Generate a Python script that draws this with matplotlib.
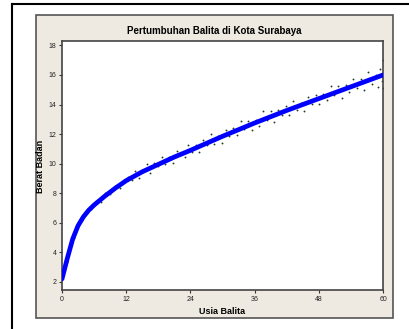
import matplotlib

matplotlib.use("Agg")
import matplotlib.pyplot as plt  # noqa: E402
from matplotlib.lines import Line2D  # noqa: E402
from matplotlib.patches import Rectangle  # noqa: E402

TITLE = "Pertumbuhan Balita di Kota Surabaya"
X_LABEL = "Usia Balita"
Y_LABEL = "Berat Badan"
X_TICKS = [0, 12, 24, 36, 48, 60]
Y_TICKS = [2, 4, 6, 8, 10, 12, 14, 16, 18]

# fitted growth curve (age in months, weight in kg)
curve_age = [0, 1, 2, 3, 4, 5, 6, 8, 10, 12, 15, 18, 21, 24, 30, 36, 42, 48, 54, 60]
curve_weight = [2.2, 3.6, 4.9, 5.8, 6.4, 6.85, 7.2, 7.8, 8.35, 8.85, 9.45, 9.95,
                10.45, 10.9, 11.85, 12.75, 13.6, 14.4, 15.2, 16.0]

# observed children
obs_age = [0.4, 0.9, 1.5, 2.2, 3.0, 3.8, 4.6, 5.4, 6.3, 7.2, 8.1, 9.0, 9.9, 10.8, 11.6,
           12.4, 13.0, 13.7, 14.3, 15.1, 15.9, 16.5, 17.2, 18.0, 18.6, 19.3, 20.0,
           20.8, 21.5, 22.2, 22.9, 23.6, 24.3, 25.0, 25.7, 26.4, 27.1, 27.8, 28.5,
           29.2, 29.9, 30.6, 31.3, 32.0, 32.7, 33.4, 34.1, 34.8, 35.5, 36.2, 36.9,
           37.6, 38.3, 39.0, 39.7, 40.4, 41.1, 41.8, 42.5, 43.2, 43.9, 44.6, 45.3,
           46.0, 46.7, 47.4, 48.1, 48.8, 49.5, 50.2, 50.9, 51.6, 52.3, 53.0, 53.7,
           54.4, 55.1, 55.8, 56.5, 57.2, 57.9, 58.6, 59.1, 59.5, 59.8, 60.0, 60.0]
obs_weight = [2.86, 3.36, 4.35, 4.98, 5.90, 6.18, 6.82, 6.90, 7.44, 7.41, 8.03, 7.92,
              8.47, 8.35, 8.90, 9.13, 8.90, 9.49, 9.06, 9.57, 9.95, 9.40, 10.07, 9.85,
              10.45, 9.97, 10.43, 10.07, 10.83, 10.68, 10.44, 11.29, 10.80, 11.26,
              10.77, 11.58, 11.29, 12.00, 11.31, 11.87, 11.38, 12.29, 11.85, 12.40,
              11.91, 12.86, 12.32, 12.87, 12.28, 12.98, 12.58, 13.53, 12.98, 13.58,
              12.83, 13.62, 13.27, 13.92, 13.32, 14.26, 13.60, 14.10, 13.54, 14.53,
              14.03, 14.62, 14.01, 14.71, 14.30, 15.24, 14.64, 15.23, 14.47, 15.32,
              14.86, 15.70, 15.15, 15.74, 14.98, 16.23, 15.42, 16.01, 15.18, 16.38,
              15.57, 17.00, 15.10]

FONT = ["Liberation Sans", "DejaVu Sans"]
plt.rcParams["font.family"] = FONT

fig = plt.figure(figsize=(4.09, 3.29), dpi=100)
W, H = 409, 329

# outer frame (only top/left visible) and the beige graph panel
fig.add_artist(Line2D([11.5 / W, 11.5 / W], [0, 1 - 3.5 / H], color="black", lw=1.5))
fig.add_artist(Line2D([11.5 / W, 1], [1 - 3.5 / H, 1 - 3.5 / H], color="black", lw=1.5))
fig.add_artist(Rectangle((36 / W, 1 - 318 / H), 357 / W, 303 / H, transform=fig.transFigure,
                         facecolor="#EEEAE1", edgecolor="#555555", lw=1.2, zorder=0))

ax = fig.add_axes([62 / W, 1 - 290 / H, 321 / W, 249 / H])
ax.set_facecolor("white")
ax.scatter(obs_age, obs_weight, s=1.8, color="#1f3f1f", linewidths=0, zorder=2)
ax.plot(curve_age, curve_weight, color="#0000FF", lw=3.4, zorder=3, solid_capstyle="round")

ax.set_xlim(0, 60)
ax.set_ylim(1.45, 18.3)
ax.set_xticks(X_TICKS)
ax.set_yticks(Y_TICKS)
ax.tick_params(direction="out", length=2.5, width=0.8, color="#333333",
               labelsize=5, labelcolor="#222222", pad=1.5)
for side in ["top", "right", "bottom", "left"]:
    ax.spines[side].set_color("#444444")
    ax.spines[side].set_linewidth(1.2)

fig.text(214.5 / W, 1 - 31 / H, TITLE, ha="center", va="center", fontsize=7,
         fontweight="bold")
fig.text(222.5 / W, 1 - 311 / H, X_LABEL, ha="center", va="center", fontsize=6.5,
         fontweight="bold")
fig.text(40.5 / W, 1 - 166 / H, Y_LABEL, ha="center", va="center", fontsize=6.5,
         fontweight="bold", rotation=90)

fig.savefig("out.png", dpi=100)
